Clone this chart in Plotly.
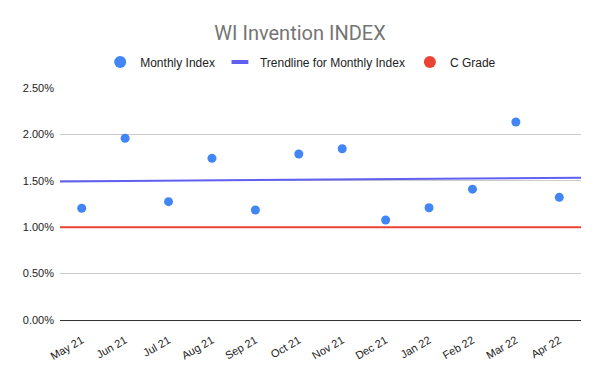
import numpy as np
import plotly.graph_objects as go

months = ["May 21", "Jun 21", "Jul 21", "Aug 21", "Sep 21", "Oct 21",
          "Nov 21", "Dec 21", "Jan 22", "Feb 22", "Mar 22", "Apr 22"]
monthly_index = [0.01204, 0.01958, 0.01275, 0.01742, 0.01185, 0.01789,
                 0.01845, 0.01078, 0.01210, 0.01410, 0.02134, 0.01322]
c_grade = 0.010
y_ticks = [0, 0.005, 0.010, 0.015, 0.020, 0.025]

BLUE = "#4285f4"
RED = "#ea4335"
TREND = "#5f5ff2"
FONT = "Roboto, Arial, sans-serif"
TICKFONT = "Arial, Liberation Sans, sans-serif"

idx = np.arange(len(months))
slope, intercept = np.polyfit(idx, monthly_index, 1)
x_edges = [-0.5, len(months) - 0.5]
trend_y = [slope * x + intercept for x in x_edges]

fig = go.Figure()
# actual marks
fig.add_trace(go.Scatter(x=x_edges, y=[c_grade, c_grade], mode="lines",
                         line=dict(color=RED, width=2), showlegend=False,
                         hoverinfo="skip"))
fig.add_trace(go.Scatter(x=x_edges, y=trend_y, mode="lines",
                         line=dict(color=TREND, width=2), showlegend=False,
                         hoverinfo="skip"))
fig.add_trace(go.Scatter(x=idx, y=monthly_index, mode="markers",
                         marker=dict(color=BLUE, size=9), showlegend=False))
# legend entries
fig.add_trace(go.Scatter(x=[None], y=[None], mode="markers", name="Monthly Index",
                         marker=dict(color=BLUE, size=12)))
fig.add_trace(go.Scatter(x=[None], y=[None], mode="markers",
                         name="Trendline for Monthly Index",
                         marker=dict(symbol="line-ew", size=12,
                                     line=dict(color=TREND, width=4))))
fig.add_trace(go.Scatter(x=[None], y=[None], mode="markers", name="C Grade",
                         marker=dict(color=RED, size=12)))

fig.update_layout(
    width=600, height=371,
    paper_bgcolor="white", plot_bgcolor="white",
    margin=dict(l=60, r=19, t=88, b=51, autoexpand=False),
    font=dict(family=FONT, color="#222222", size=12),
    title=dict(text="WI Invention INDEX", x=0.5, xanchor="center",
               y=1 - 33 / 371, yanchor="middle", automargin=False,
               font=dict(family=FONT, size=20, color="#757575")),
    legend=dict(orientation="h", x=0.462, xanchor="center", y=1 - 62 / 371,
                yref="container", yanchor="middle", traceorder="normal",
                font=dict(family=TICKFONT, size=12, color="#222222"),
                itemwidth=30),
    xaxis=dict(range=x_edges, tickmode="array", tickvals=list(idx),
               ticktext=months, tickangle=-30, showgrid=False,
               zeroline=False, showline=False, ticks="", automargin=False,
               ticklabelstandoff=11,
               tickfont=dict(family=TICKFONT, size=11, color="#222222")),
    yaxis=dict(range=[0, 0.025], tickvals=y_ticks, tickformat=".2%",
               showgrid=True, gridcolor="#cccccc", gridwidth=1,
               zeroline=True, zerolinecolor="#333333", zerolinewidth=1,
               ticks="", automargin=False, ticklabelstandoff=5,
               tickfont=dict(family=TICKFONT, size=11, color="#222222")),
)

fig.write_html("out.html", config={"displayModeBar": False},
               post_script="document.body.style.margin='0';")
